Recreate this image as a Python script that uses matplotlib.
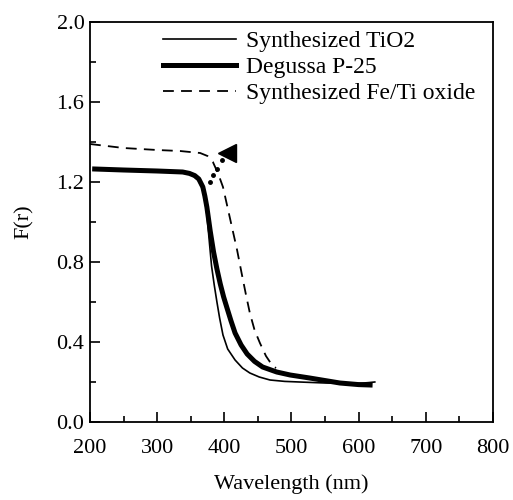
import matplotlib
matplotlib.use('Agg')
import matplotlib.pyplot as plt
from matplotlib.ticker import MultipleLocator

plt.rcParams['font.family'] = 'Liberation Serif'

# Synthesized TiO2 (thin solid)
tio2_x = [207, 250, 300, 338, 352, 361, 367, 371, 374, 378, 381, 385, 389, 393, 398, 405, 416, 427, 438, 452, 468, 490, 512, 550, 600, 615, 624]
tio2_y = [1.265, 1.26, 1.255, 1.25, 1.235, 1.21, 1.17, 1.11, 1.04, 0.89, 0.78, 0.685, 0.60, 0.52, 0.435, 0.365, 0.31, 0.27, 0.245, 0.225, 0.21, 0.203, 0.20, 0.195, 0.193, 0.197, 0.20]

# Degussa P-25 (thick solid)
p25_x = [207, 250, 300, 338, 348, 356, 362, 368, 371, 374, 379, 384, 389, 394, 399, 404, 410, 416, 425, 434, 445, 457, 478, 498, 527, 572, 600, 617]
p25_y = [1.265, 1.26, 1.255, 1.25, 1.243, 1.232, 1.215, 1.175, 1.13, 1.075, 0.955, 0.85, 0.765, 0.69, 0.625, 0.57, 0.505, 0.445, 0.385, 0.34, 0.303, 0.275, 0.25, 0.235, 0.22, 0.195, 0.187, 0.185]

# Synthesized Fe/Ti oxide (dashed)
feti_x = [200, 250, 300, 334, 364, 375, 383, 391, 398, 408, 419, 426, 432, 438, 445, 453, 462, 472, 477]
feti_y = [1.39, 1.37, 1.36, 1.355, 1.345, 1.33, 1.30, 1.24, 1.175, 1.025, 0.86, 0.74, 0.64, 0.545, 0.46, 0.395, 0.33, 0.28, 0.27]

# pointer near the absorption edge
pointer_x = [378, 383, 389, 396]
pointer_y = [1.20, 1.235, 1.265, 1.31]
arrow_x = 404
arrow_y = 1.345

fig = plt.figure(figsize=(5.13, 5.0), dpi=100)
ax = fig.add_axes([0.1754, 0.156, 0.7856, 0.80])

ax.plot(tio2_x, tio2_y, color='black', linewidth=1.2, label='Synthesized TiO2')
ax.plot(p25_x, p25_y, color='black', linewidth=3.6, label='Degussa P-25')
ax.plot(feti_x, feti_y, color='black', linewidth=1.3, linestyle=(0, (6, 4)),
        label='Synthesized Fe/Ti oxide')
ax.plot(pointer_x, pointer_y, color='black', linestyle='none', marker='o', markersize=2.5)
ax.plot([arrow_x], [arrow_y], color='black', marker='<', markersize=13, linestyle='none')

ax.set_xlim(200, 800)
ax.set_ylim(0, 2.0)
ax.xaxis.set_major_locator(MultipleLocator(100))
ax.xaxis.set_minor_locator(MultipleLocator(50))
ax.yaxis.set_major_locator(MultipleLocator(0.4))
ax.yaxis.set_minor_locator(MultipleLocator(0.2))
ax.yaxis.set_major_formatter(plt.FuncFormatter(lambda v, p: f'{v:.1f}'))
ax.tick_params(which='both', direction='in', labelsize=16, width=1.2,
               top=False, right=False)
ax.tick_params(which='major', length=7)
ax.tick_params(which='minor', length=4)
ax.tick_params(axis='x', pad=12)
ax.tick_params(axis='y', pad=4)
for s in ax.spines.values():
    s.set_linewidth(1.3)

ax.set_xlabel('Wavelength (nm)', fontsize=16, labelpad=12)
ax.set_ylabel('F(r)', fontsize=16, labelpad=16)

ax.legend(loc='upper left', bbox_to_anchor=(0.181, 0.978), frameon=False, fontsize=17,
          handlelength=3.1, handletextpad=0.4, labelspacing=0.18, borderpad=0,
          borderaxespad=0)

fig.savefig('out.png', dpi=100)
